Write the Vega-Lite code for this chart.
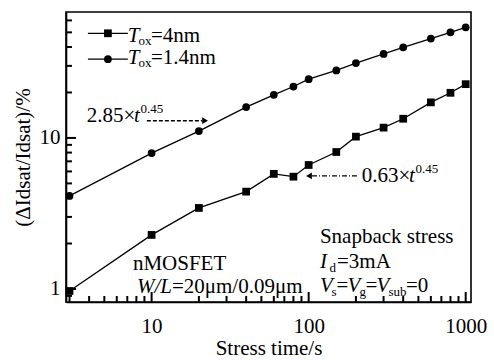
{
  "$schema": "https://vega.github.io/schema/vega-lite/v6.json",
  "width": 405,
  "height": 290,
  "autosize": {"type": "none"},
  "padding": {"left": 66, "top": 12, "right": 23, "bottom": 58},
  "background": "white",
  "config": {
    "view": {"stroke": "black", "strokeWidth": 1.6},
    "font": "Liberation Serif",
    "axis": {
      "domainColor": "black", "domainWidth": 1.6,
      "labelFont": "Liberation Serif", "labelFontSize": 21, "labelColor": "black",
      "titleFont": "Liberation Serif", "titleFontSize": 21, "titleColor": "black", "titleFontWeight": "normal",
      "grid": false
    },
    "text": {"font": "Liberation Serif", "color": "black"}
  },
  "resolve": {"axis": {"x": "independent", "y": "independent"}},
  "layer": [
    {
      "data": {"values": [
        {"t": 3, "v": 0.97, "s": "4nm"}, {"t": 10, "v": 2.28, "s": "4nm"}, {"t": 20, "v": 3.44, "s": "4nm"},
        {"t": 40, "v": 4.41, "s": "4nm"}, {"t": 60, "v": 5.78, "s": "4nm"}, {"t": 80, "v": 5.54, "s": "4nm"},
        {"t": 100, "v": 6.62, "s": "4nm"}, {"t": 150, "v": 8.07, "s": "4nm"}, {"t": 200, "v": 10.2, "s": "4nm"},
        {"t": 300, "v": 11.7, "s": "4nm"}, {"t": 400, "v": 13.4, "s": "4nm"}, {"t": 600, "v": 17.2, "s": "4nm"},
        {"t": 800, "v": 19.9, "s": "4nm"}, {"t": 1000, "v": 22.7, "s": "4nm"},
        {"t": 3, "v": 4.13, "s": "1.4nm"}, {"t": 10, "v": 7.94, "s": "1.4nm"}, {"t": 20, "v": 11.1, "s": "1.4nm"},
        {"t": 40, "v": 16.0, "s": "1.4nm"}, {"t": 60, "v": 19.3, "s": "1.4nm"}, {"t": 80, "v": 21.9, "s": "1.4nm"},
        {"t": 100, "v": 24.5, "s": "1.4nm"}, {"t": 150, "v": 28.0, "s": "1.4nm"}, {"t": 200, "v": 31.3, "s": "1.4nm"},
        {"t": 300, "v": 36.0, "s": "1.4nm"}, {"t": 400, "v": 39.8, "s": "1.4nm"}, {"t": 600, "v": 45.5, "s": "1.4nm"},
        {"t": 800, "v": 50.0, "s": "1.4nm"}, {"t": 1000, "v": 54.0, "s": "1.4nm"}
      ]},
      "encoding": {
        "x": {"field": "t", "type": "quantitative",
          "scale": {"type": "log", "domain": [2.85, 1081], "nice": false},
          "axis": {"title": "Stress time/s", "orient": "bottom", "values": [10, 100, 1000], "format": "d",
            "ticks": false, "labelPadding": 13, "titlePadding": 1, "labelFlush": false, "labelOverlap": false}},
        "y": {"field": "v", "type": "quantitative",
          "scale": {"type": "log", "domain": [0.82, 68.2], "nice": false},
          "axis": {"title": "(ΔIdsat/Idsat)/%", "orient": "left", "values": [1, 10], "format": "d",
            "ticks": false, "labelPadding": 6, "titlePadding": 6, "labelOverlap": false}}
      },
      "layer": [
        {"mark": {"type": "line", "color": "black", "strokeWidth": 1.3}, "encoding": {"detail": {"field": "s"}}},
        {"mark": {"type": "point", "filled": true, "color": "black", "opacity": 1, "size": 60},
         "encoding": {"shape": {"field": "s", "type": "nominal", "scale": {"domain": ["4nm", "1.4nm"], "range": ["square", "circle"]}, "legend": null}}}
      ]
    },
    {
      "data": {"values": [{"t": 3}, {"t": 4}, {"t": 5}, {"t": 6}, {"t": 7}, {"t": 8}, {"t": 9},
        {"t": 20}, {"t": 30}, {"t": 40}, {"t": 50}, {"t": 60}, {"t": 70}, {"t": 80}, {"t": 90},
        {"t": 200}, {"t": 300}, {"t": 400}, {"t": 500}, {"t": 600}, {"t": 700}, {"t": 800}, {"t": 900}]},
      "mark": {"type": "rule", "color": "black", "strokeWidth": 2},
      "encoding": {"x": {"field": "t", "type": "quantitative", "axis": null},
        "y": {"datum": 0.82, "type": "quantitative", "axis": null}, "y2": {"datum": 0.899}}
    },
    {
      "data": {"values": [{"t": 10}, {"t": 100}, {"t": 1000}]},
      "mark": {"type": "rule", "color": "black", "strokeWidth": 2},
      "encoding": {"x": {"field": "t", "type": "quantitative", "axis": null},
        "y": {"datum": 0.82, "type": "quantitative", "axis": null}, "y2": {"datum": 0.955}}
    },
    {
      "data": {"values": [{"v": 0.9}, {"v": 2}, {"v": 3}, {"v": 4}, {"v": 5}, {"v": 6}, {"v": 7}, {"v": 8}, {"v": 9},
        {"v": 20}, {"v": 30}, {"v": 40}, {"v": 50}, {"v": 60}]},
      "mark": {"type": "rule", "color": "black", "strokeWidth": 2},
      "encoding": {"y": {"field": "v", "type": "quantitative", "axis": null},
        "x": {"datum": 2.85, "type": "quantitative", "axis": null}, "x2": {"datum": 3.11}}
    },
    {
      "data": {"values": [{"v": 1}, {"v": 10}]},
      "mark": {"type": "rule", "color": "black", "strokeWidth": 2},
      "encoding": {"y": {"field": "v", "type": "quantitative", "axis": null},
        "x": {"datum": 2.85, "type": "quantitative", "axis": null}, "x2": {"datum": 3.3}}
    },
    {
      "data": {"values": [{"x": 3.93, "x2": 7.06, "y": 49.3, "s": "4nm"}, {"x": 3.93, "x2": 7.06, "y": 33.2, "s": "1.4nm"}]},
      "mark": {"type": "rule", "color": "black", "strokeWidth": 1.3},
      "encoding": {"x": {"field": "x", "type": "quantitative", "axis": null}, "x2": {"field": "x2"}, "y": {"field": "y", "type": "quantitative", "axis": null}}
    },
    {
      "data": {"values": [{"x": 5.27, "y": 49.3, "s": "4nm"}, {"x": 5.27, "y": 33.2, "s": "1.4nm"}]},
      "mark": {"type": "point", "filled": true, "color": "black", "opacity": 1, "size": 60},
      "encoding": {"x": {"field": "x", "type": "quantitative", "axis": null}, "y": {"field": "y", "type": "quantitative", "axis": null},
        "shape": {"field": "s", "type": "nominal", "scale": {"domain": ["4nm", "1.4nm"], "range": ["square", "circle"]}, "legend": null}}
    },
    {
      "data": {"values": [{"x": 9.33, "x2": 21.0, "y": 13.0}]},
      "mark": {"type": "rule", "color": "black", "strokeWidth": 1.6, "strokeDash": [4, 2]},
      "encoding": {"x": {"field": "x", "type": "quantitative", "axis": null}, "x2": {"field": "x2"}, "y": {"field": "y", "type": "quantitative", "axis": null}}
    },
    {
      "data": {"values": [{"x": 105, "x2": 203, "y": 5.6}]},
      "mark": {"type": "rule", "color": "black", "strokeWidth": 1.3, "strokeDash": [5, 2, 1, 2]},
      "encoding": {"x": {"field": "x", "type": "quantitative", "axis": null}, "x2": {"field": "x2"}, "y": {"field": "y", "type": "quantitative", "axis": null}}
    },
    {
      "data": {"values": [{"x": 21.9, "y": 13.0}]},
      "mark": {"type": "point", "shape": "triangle-right", "filled": true, "color": "black", "opacity": 1, "size": 45},
      "encoding": {"x": {"field": "x", "type": "quantitative", "axis": null}, "y": {"field": "y", "type": "quantitative", "axis": null}}
    },
    {
      "data": {"values": [{"x": 100.5, "y": 5.6}]},
      "mark": {"type": "point", "shape": "triangle-left", "filled": true, "color": "black", "opacity": 1, "size": 45},
      "encoding": {"x": {"field": "x", "type": "quantitative", "axis": null}, "y": {"field": "y", "type": "quantitative", "axis": null}}
    },
    {
      "data": {"values": [
        {"x": 9.9, "y": 43.4, "text": "=4nm"},
        {"x": 9.9, "y": 30.9, "text": "=1.4nm"},
        {"x": 3.87, "y": 12.8, "text": "2.85×"},
        {"x": 218, "y": 5.11, "text": "0.63×"},
        {"x": 7.6, "y": 1.336, "text": "nMOSFET"},
        {"x": 13.47, "y": 0.941, "text": "=20μm/0.09μm"},
        {"x": 118, "y": 2.02, "text": "Snapback stress"},
        {"x": 151.5, "y": 1.377, "text": "=3mA"},
        {"x": 150.3, "y": 0.959, "text": "="},
        {"x": 230.1, "y": 0.959, "text": "="},
        {"x": 416.6, "y": 0.959, "text": "=0"}
      ]},
      "mark": {"type": "text", "align": "left", "baseline": "alphabetic", "fontSize": 21},
      "encoding": {"x": {"field": "x", "type": "quantitative", "axis": null}, "y": {"field": "y", "type": "quantitative", "axis": null}, "text": {"field": "text"}}
    },
    {
      "data": {"values": [
        {"x": 7.06, "y": 43.4, "text": "T"},
        {"x": 7.06, "y": 30.9, "text": "T"},
        {"x": 7.72, "y": 12.8, "text": "t"},
        {"x": 435.5, "y": 5.11, "text": "t"},
        {"x": 8.06, "y": 0.941, "text": "W/L"},
        {"x": 118, "y": 1.377, "text": "I"},
        {"x": 118, "y": 0.959, "text": "V"},
        {"x": 176.6, "y": 0.959, "text": "V"},
        {"x": 270.3, "y": 0.959, "text": "V"}
      ]},
      "mark": {"type": "text", "align": "left", "baseline": "alphabetic", "fontSize": 21, "fontStyle": "italic"},
      "encoding": {"x": {"field": "x", "type": "quantitative", "axis": null}, "y": {"field": "y", "type": "quantitative", "axis": null}, "text": {"field": "text"}}
    },
    {
      "data": {"values": [
        {"x": 8.24, "y": 41.3, "text": "ox"},
        {"x": 8.24, "y": 29.5, "text": "ox"},
        {"x": 135.7, "y": 1.296, "text": "d"},
        {"x": 139.7, "y": 0.9, "text": "s"},
        {"x": 210.7, "y": 0.9, "text": "g"},
        {"x": 322.3, "y": 0.9, "text": "sub"},
        {"x": 8.486, "y": 14.6, "text": "0.45"},
        {"x": 479, "y": 5.82, "text": "0.45"}
      ]},
      "mark": {"type": "text", "align": "left", "baseline": "alphabetic", "fontSize": 13},
      "encoding": {"x": {"field": "x", "type": "quantitative", "axis": null}, "y": {"field": "y", "type": "quantitative", "axis": null}, "text": {"field": "text"}}
    }
  ]
}
